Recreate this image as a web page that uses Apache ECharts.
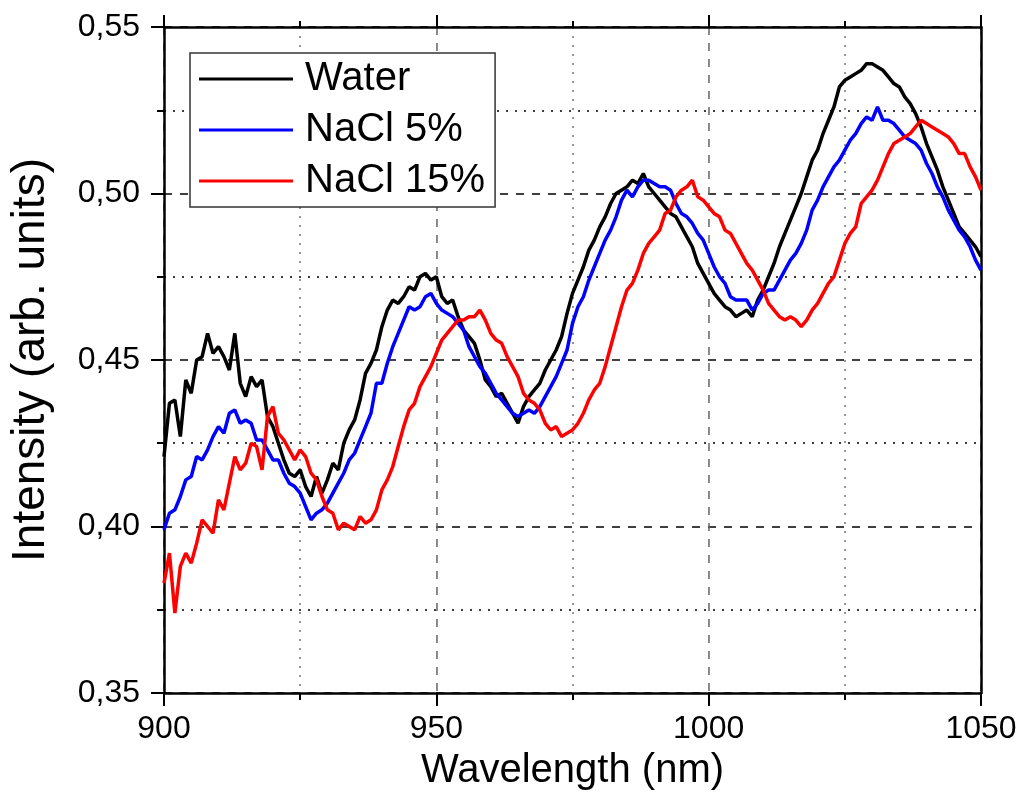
<!DOCTYPE html>
<html>
<head>
<meta charset="utf-8">
<script src="https://cdn.jsdelivr.net/npm/echarts@6/dist/echarts.min.js"></script>
<style>
  html, body { margin: 0; padding: 0; background: #fff; }
  #main { width: 1024px; height: 798px; }
</style>
</head>
<body>
<div id="main"></div>
<script>
  // wavelength axis (nm), one sample per nm from 900 to 1050
  const wlStart = 900;
  const wlEnd = 1050;

  // Water
  const water = [
    0.421, 0.437, 0.438, 0.427, 0.444, 0.440, 0.450, 0.451, 0.458, 0.452,
    0.454, 0.451, 0.447, 0.458, 0.443, 0.439, 0.445, 0.442, 0.444, 0.433,
    0.430, 0.425, 0.420, 0.416, 0.415, 0.417, 0.412, 0.409, 0.415, 0.410,
    0.414, 0.419, 0.417, 0.425, 0.429, 0.432, 0.438, 0.446, 0.449, 0.453,
    0.460, 0.465, 0.468, 0.467, 0.469, 0.472, 0.471, 0.475, 0.476, 0.474,
    0.475, 0.469, 0.467, 0.468, 0.463, 0.459, 0.457, 0.455, 0.450, 0.444,
    0.442, 0.439, 0.440, 0.437, 0.434, 0.431, 0.436, 0.439, 0.441, 0.443,
    0.447, 0.450, 0.453, 0.457, 0.464, 0.470, 0.474, 0.478, 0.483, 0.486,
    0.490, 0.493, 0.497, 0.500, 0.501, 0.502, 0.504, 0.503, 0.506, 0.502,
    0.500, 0.498, 0.496, 0.494, 0.493, 0.490, 0.487, 0.484, 0.479, 0.476,
    0.473, 0.470, 0.468, 0.466, 0.465, 0.463, 0.464, 0.465, 0.463, 0.468,
    0.471, 0.475, 0.479, 0.484, 0.488, 0.492, 0.496, 0.500, 0.505, 0.510,
    0.513, 0.518, 0.522, 0.526, 0.532, 0.534, 0.535, 0.536, 0.537, 0.539,
    0.539, 0.538, 0.537, 0.535, 0.533, 0.532, 0.529, 0.527, 0.524, 0.520,
    0.515, 0.511, 0.507, 0.502, 0.498, 0.494, 0.490, 0.488, 0.486, 0.484,
    0.481
  ];

  // NaCl 5%
  const nacl5 = [
    0.399, 0.404, 0.405, 0.409, 0.414, 0.415, 0.421, 0.420, 0.423, 0.427,
    0.430, 0.428, 0.434, 0.435, 0.431, 0.432, 0.431, 0.426, 0.426, 0.423,
    0.420, 0.420, 0.416, 0.413, 0.412, 0.410, 0.406, 0.402, 0.404, 0.405,
    0.407, 0.410, 0.413, 0.416, 0.420, 0.422, 0.426, 0.430, 0.434, 0.443,
    0.443, 0.449, 0.454, 0.458, 0.462, 0.466, 0.465, 0.466, 0.469, 0.470,
    0.467, 0.465, 0.464, 0.463, 0.461, 0.459, 0.454, 0.451, 0.448, 0.446,
    0.443, 0.440, 0.438, 0.436, 0.434, 0.433, 0.434, 0.435, 0.434, 0.436,
    0.439, 0.442, 0.445, 0.449, 0.453, 0.461, 0.466, 0.469, 0.474, 0.478,
    0.482, 0.486, 0.489, 0.493, 0.498, 0.501, 0.499, 0.502, 0.504, 0.504,
    0.503, 0.502, 0.502, 0.501, 0.497, 0.494, 0.493, 0.491, 0.488, 0.486,
    0.482, 0.478, 0.475, 0.473, 0.469, 0.468, 0.468, 0.468, 0.465, 0.467,
    0.470, 0.471, 0.471, 0.474, 0.477, 0.480, 0.482, 0.485, 0.489, 0.495,
    0.498, 0.502, 0.505, 0.508, 0.510, 0.513, 0.516, 0.518, 0.521, 0.523,
    0.522, 0.526, 0.522, 0.522, 0.521, 0.519, 0.517, 0.516, 0.515, 0.513,
    0.509, 0.506, 0.502, 0.499, 0.495, 0.492, 0.489, 0.487, 0.484, 0.480,
    0.477
  ];

  // NaCl 15%
  const nacl15 = [
    0.383, 0.392, 0.374, 0.388, 0.392, 0.389, 0.395, 0.402, 0.400, 0.398,
    0.408, 0.405, 0.413, 0.421, 0.417, 0.419, 0.425, 0.424, 0.417, 0.433,
    0.436, 0.428, 0.426, 0.423, 0.420, 0.423, 0.421, 0.416, 0.414, 0.409,
    0.405, 0.404, 0.399, 0.401, 0.400, 0.399, 0.403, 0.401, 0.402, 0.405,
    0.411, 0.414, 0.418, 0.424, 0.430, 0.435, 0.437, 0.442, 0.445, 0.448,
    0.452, 0.456, 0.458, 0.460, 0.462, 0.462, 0.463, 0.463, 0.465, 0.462,
    0.458, 0.456, 0.455, 0.451, 0.448, 0.445, 0.440, 0.438, 0.437, 0.435,
    0.431, 0.429, 0.430, 0.427, 0.428, 0.429, 0.431, 0.434, 0.438, 0.441,
    0.443, 0.448, 0.454, 0.460, 0.466, 0.471, 0.473, 0.477, 0.482, 0.485,
    0.487, 0.489, 0.494, 0.495, 0.499, 0.501, 0.502, 0.504, 0.499, 0.498,
    0.496, 0.494, 0.493, 0.489, 0.488, 0.485, 0.482, 0.479, 0.477, 0.474,
    0.471, 0.467, 0.465, 0.463, 0.462, 0.463, 0.462, 0.460, 0.462, 0.465,
    0.467, 0.470, 0.473, 0.475, 0.480, 0.485, 0.488, 0.490, 0.497, 0.499,
    0.501, 0.504, 0.508, 0.512, 0.515, 0.516, 0.517, 0.518, 0.520, 0.522,
    0.521, 0.520, 0.519, 0.518, 0.517, 0.515, 0.512, 0.512, 0.508, 0.505,
    0.501
  ];

  const seriesNames = ['Water', 'NaCl 5%', 'NaCl 15%'];
  const seriesColors = ['#000000', '#0000ff', '#ff0000'];
  const seriesValues = [water, nacl5, nacl15];

  const FONT = '"Liberation Sans", Arial, sans-serif';

  const toPairs = (vals) => vals.map((v, i) => [wlStart + i, v]);

  const series = seriesValues.map((vals, k) => ({
    name: seriesNames[k],
    type: 'line',
    data: toPairs(vals),
    showSymbol: false,
    symbol: 'none',
    smooth: false,
    lineStyle: { color: seriesColors[k], width: 3.5 },
    itemStyle: { color: seriesColors[k] },
    emphasis: { disabled: true }
  }));

  const chart = echarts.init(document.getElementById('main'));

  const option = {
    animation: false,
    backgroundColor: '#ffffff',
    grid: { left: 160, right: 43, top: 27, bottom: 105, containLabel: false },
    legend: {
      data: seriesNames.map((n) => ({ name: n, icon: 'rect' })),
      orient: 'vertical',
      left: 190,
      top: 53,
      itemWidth: 94,
      itemHeight: 3,
      itemGap: 11,
      padding: [6, 10, 6, 9],
      backgroundColor: '#ffffff',
      borderColor: '#333333',
      borderWidth: 1.5,
      borderRadius: 0,
      itemStyle: { borderWidth: 0 },
      lineStyle: { width: 0 },
      textStyle: {
        fontFamily: FONT,
        fontSize: 40,
        lineHeight: 40,
        color: '#000',
        padding: [0, 0, 0, 7]
      }
    },
    xAxis: [
      {
        type: 'value',
        min: wlStart,
        max: wlEnd,
        interval: 50,
        name: 'Wavelength (nm)',
        nameLocation: 'middle',
        nameGap: 58,
        nameTextStyle: { fontFamily: FONT, fontSize: 40, color: '#000' },
        axisLine: { show: true, onZero: false, lineStyle: { color: '#000', width: 2.5 } },
        axisTick: { show: true, inside: false, length: 13, lineStyle: { color: '#000', width: 2 } },
        minorTick: { show: true, splitNumber: 2, length: 7, lineStyle: { color: '#000', width: 2 } },
        axisLabel: {
          fontFamily: FONT,
          fontSize: 32,
          color: '#000',
          margin: 20,
          formatter: (v) => String(v)
        },
        splitLine: { show: true, lineStyle: { color: '#666', width: 1.5, type: [8, 8] } },
        minorSplitLine: { show: true, lineStyle: { color: '#777', width: 1.5, type: [2, 7] } }
      },
      {
        type: 'value',
        position: 'top',
        min: wlStart,
        max: wlEnd,
        interval: 50,
        axisLine: { show: true, onZero: false, lineStyle: { color: '#000', width: 2.5 } },
        axisTick: { show: true, inside: false, length: 12, lineStyle: { color: '#000', width: 2 } },
        minorTick: { show: true, splitNumber: 2, length: 6, lineStyle: { color: '#000', width: 2 } },
        axisLabel: { show: false },
        splitLine: { show: false }
      }
    ],
    yAxis: [
      {
        type: 'value',
        min: 0.35,
        max: 0.55,
        interval: 0.05,
        name: 'Intensity (arb. units)',
        nameLocation: 'middle',
        nameGap: 110,
        nameTextStyle: { fontFamily: FONT, fontSize: 46, color: '#000' },
        axisLine: { show: true, onZero: false, lineStyle: { color: '#000', width: 2.5 } },
        axisTick: { show: true, inside: false, length: 13, lineStyle: { color: '#000', width: 2 } },
        minorTick: { show: true, splitNumber: 2, length: 7, lineStyle: { color: '#000', width: 2 } },
        axisLabel: {
          fontFamily: FONT,
          fontSize: 32,
          color: '#000',
          margin: 24,
          formatter: (v) => v.toFixed(2).replace('.', ',')
        },
        splitLine: { show: true, lineStyle: { color: '#000', width: 1.5, type: [8, 8] } },
        minorSplitLine: { show: true, lineStyle: { color: '#000', width: 1.5, type: [2, 7] } }
      },
      {
        type: 'value',
        position: 'right',
        min: 0.35,
        max: 0.55,
        interval: 0.05,
        axisLine: { show: true, onZero: false, lineStyle: { color: '#000', width: 2.5 } },
        axisTick: { show: false },
        axisLabel: { show: false },
        splitLine: { show: false }
      }
    ],
    series: series
  };

  chart.setOption(option);
</script>
</body>
</html>
